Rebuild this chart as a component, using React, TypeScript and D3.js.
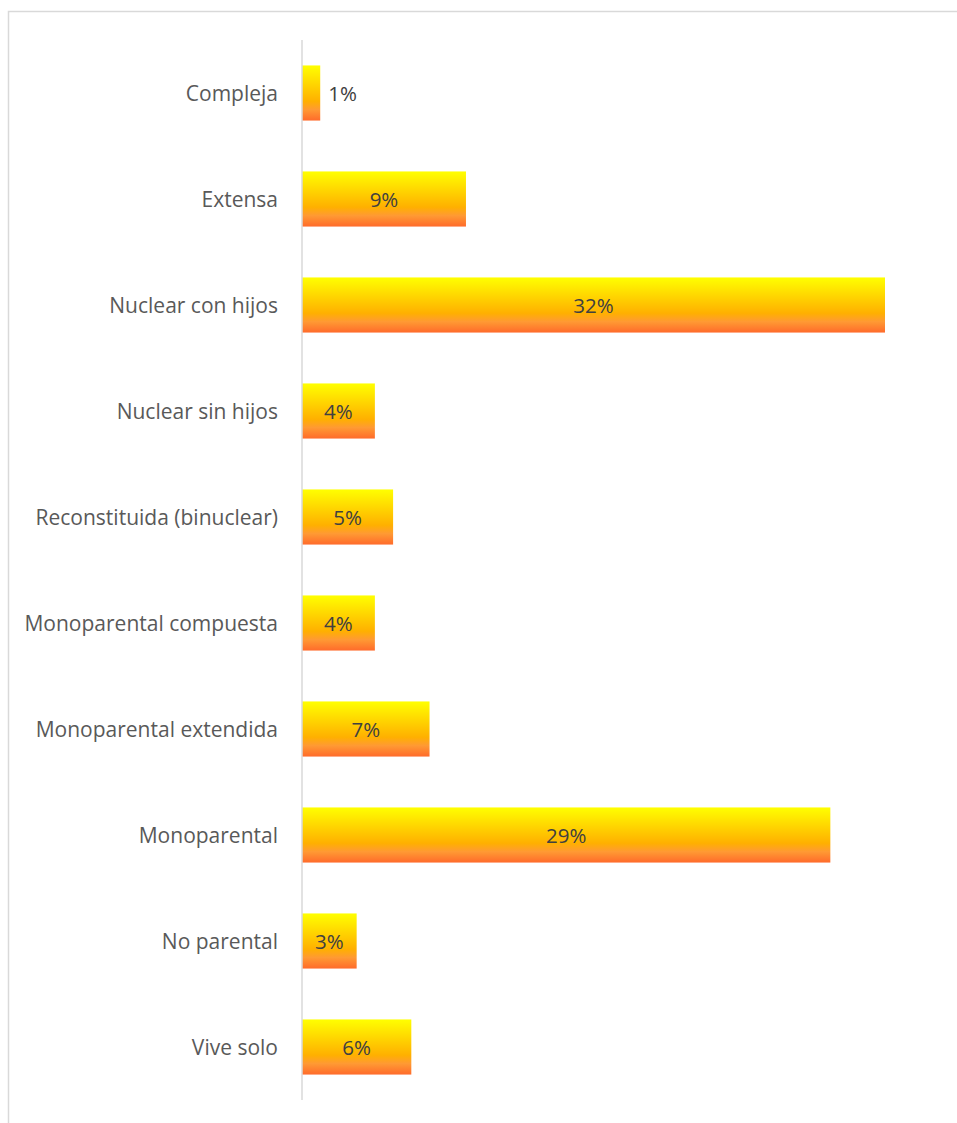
import React from "react";
import * as d3 from "d3";

const categories = [
  "Compleja",
  "Extensa",
  "Nuclear con hijos",
  "Nuclear sin hijos",
  "Reconstituida (binuclear)",
  "Monoparental compuesta",
  "Monoparental extendida",
  "Monoparental",
  "No parental",
  "Vive solo",
];
const values = [1, 9, 32, 4, 5, 4, 7, 29, 3, 6];
const valueLabels = ["1%", "9%", "32%", "4%", "5%", "4%", "7%", "29%", "3%", "6%"];

const W = 957;
const H = 1123;

export default function App() {
  const x = d3.scaleLinear().domain([0, 32]).range([302, 885]);
  const y = d3
    .scaleBand<string>()
    .domain(categories)
    .range([40, 1100])
    .paddingInner(0.48)
    .paddingOuter(0.24);
  const font = "'Open Sans', sans-serif";
  return (
    <svg width={W} height={H} style={{ position: "absolute", left: 0, top: 0, display: "block" }}>
      <defs>
        <linearGradient id="barGrad" x1="0" y1="0" x2="0" y2="1">
          <stop offset="0%" stopColor="#ffff00" />
          <stop offset="45%" stopColor="#ffc800" />
          <stop offset="65%" stopColor="#ffb000" />
          <stop offset="80%" stopColor="#ff9a33" />
          <stop offset="100%" stopColor="#ff6b2b" />
        </linearGradient>
      </defs>
      <rect x={8.5} y={11.5} width={1000} height={1200} fill="#fff" stroke="#d9d9d9" strokeWidth={1.5} />
      {categories.map((c, i) => {
        const yy = y(c)!;
        const bw = x(values[i]) - x(0);
        const inside = bw > 30;
        return (
          <g key={c}>
            <rect x={x(0)} y={yy} width={bw} height={y.bandwidth()} fill="url(#barGrad)" />
            <text
              x={x(0) - 24}
              y={yy + y.bandwidth() / 2}
              textAnchor="end"
              dominantBaseline="central"
              fontFamily={font}
              fontSize={21}
              fill="#595959"
            >
              {c}
            </text>
            <text
              x={inside ? x(0) + bw / 2 : x(values[i]) + 8}
              y={yy + y.bandwidth() / 2}
              textAnchor={inside ? "middle" : "start"}
              dominantBaseline="central"
              fontFamily={font}
              fontSize={20.5}
              fill="#404040"
            >
              {valueLabels[i]}
            </text>
          </g>
        );
      })}
      <line x1={x(0)} x2={x(0)} y1={40} y2={1100} stroke="#d9d9d9" strokeWidth={1.5} />
    </svg>
  );
}
